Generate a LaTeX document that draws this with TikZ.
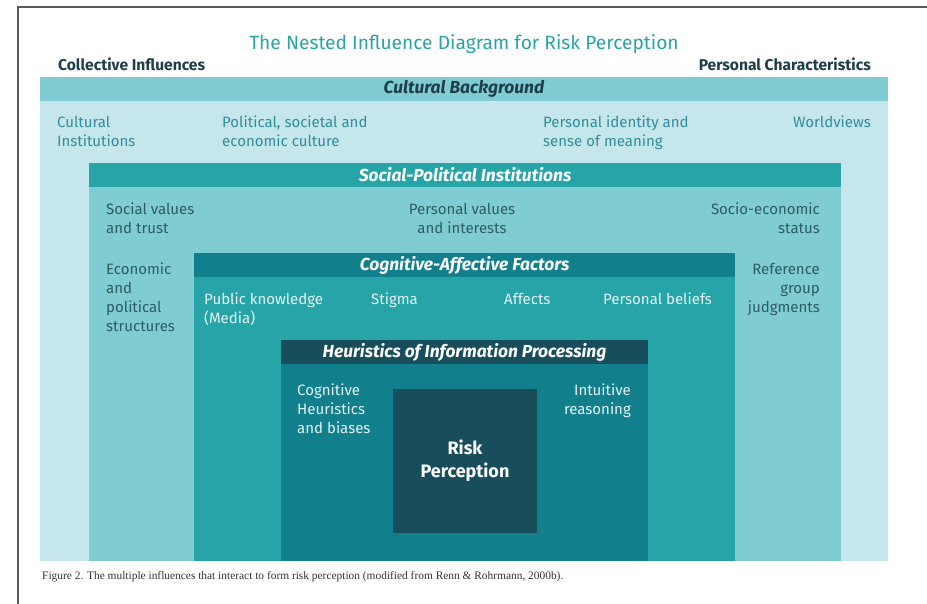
\documentclass[tikz,border=0pt]{standalone}
\usepackage{fontspec}
\setmainfont{Fira Sans}
\newfontfamily\capfont{Liberation Serif}
\usetikzlibrary{positioning}
\definecolor{paleTeal}{HTML}{C4E6EC}
\definecolor{lightTeal}{HTML}{7FCDD2}
\definecolor{midTeal}{HTML}{26A4A7}
\definecolor{deepTeal}{HTML}{117F8C}
\definecolor{darkTeal}{HTML}{184E5C}
\definecolor{titleTeal}{HTML}{2BA3A5}
\definecolor{inkOuter}{HTML}{338D98}
\definecolor{inkSocial}{HTML}{2E5C63}
\definecolor{inkDark}{HTML}{1E3F49}
\definecolor{inkLight}{HTML}{E4F3F4}
\tikzset{
  layer/.style={inner sep=0pt, outer sep=0pt, anchor=north west},
  band/.style={inner sep=0pt, outer sep=0pt, anchor=north, minimum height=24pt,
    text=white, font=\bfseries\itshape\fontsize{17.4}{19}\selectfont},
  lbl/.style={inner sep=0pt, align=left, font=\fontsize{15}{19}\selectfont},
  side/.style={inner sep=0pt, font=\bfseries\fontsize{15.6}{17}\selectfont, text=inkDark},
}

\begin{document}
\begin{tikzpicture}[x=1pt,y=-1pt]
\useasboundingbox (0,0) rectangle (927,604);
\fill[white] (0,0) rectangle (927,604);
\coordinate (frameLow) at (18,604);
\coordinate (frameCorner) at (18,7);
\coordinate (frameEnd) at (927,7);
\draw[black!65, line width=1.4pt] (frameLow) -- (frameCorner) -- (frameEnd);

% title and side headings
\node[inner sep=0pt, text=titleTeal, font=\fontsize{19.2}{21}\selectfont] (title) at (464,44) {The Nested Influence Diagram for Risk Perception};
\node[side, anchor=west] (collective) at (58,64) {Collective Influences};
\node[side, anchor=east] (personal) at (871,64) {Personal Characteristics};

% nested layers
\node[layer, fill=paleTeal, minimum width=848pt, minimum height=484pt] (cultBox) at (40,77) {};
\node[band, fill=lightTeal, text=inkDark, minimum width=848pt] (cultHdr) at (cultBox.north) {Cultural Background};
\node[layer, fill=lightTeal, minimum width=752pt, minimum height=398pt] (socBox) at (89,163) {};
\node[band, fill=midTeal, minimum width=752pt] (socHdr) at (socBox.north) {Social-Political Institutions};
\node[layer, fill=midTeal, minimum width=541pt, minimum height=308pt] (cogBox) at (194,253) {};
\node[band, fill=deepTeal, minimum width=541pt] (cogHdr) at (cogBox.north) {Cognitive-Affective Factors};
\node[layer, fill=deepTeal, minimum width=367pt, minimum height=221pt] (heurBox) at (281,340) {};
\node[band, fill=darkTeal, minimum width=367pt] (heurHdr) at (heurBox.north) {Heuristics of Information Processing};
\node[layer, fill=darkTeal, minimum width=144pt, minimum height=144pt] (riskBox) at (393,389) {};
\node[inner sep=0pt, align=center, text=white, font=\bfseries\fontsize{18}{23}\selectfont] (risk) at (riskBox.center) {Risk\\Perception};

% cultural background
\node[lbl, text=inkOuter, anchor=north west] (cultInst) at (57,116) {Cultural\\Institutions};
\node[lbl, text=inkOuter, anchor=north west] (polCult) at (222,116) {Political, societal and\\economic culture};
\node[lbl, text=inkOuter, anchor=north west] (identity) at (543,116) {Personal identity and\\sense of meaning};
\node[lbl, text=inkOuter, anchor=north east] (worldviews) at (871,116) {Worldviews};

% social-political institutions
\node[lbl, text=inkSocial, anchor=north west] (socValues) at (106,203) {Social values\\and trust};
\node[lbl, text=inkSocial, align=center, anchor=north] (persValues) at (462,203) {Personal values\\and interests};
\node[lbl, text=inkSocial, align=right, anchor=north east] (socioEcon) at (820,203) {Socio-economic\\status};
\node[lbl, text=inkSocial, anchor=north west] (econPol) at (106,263) {Economic\\and\\political\\structures};
\node[lbl, text=inkSocial, align=right, anchor=north east] (refGroup) at (820,263) {Reference\\group\\judgments};

% cognitive-affective factors
\node[lbl, text=inkLight, anchor=north west] (pubKnow) at (204,293) {Public knowledge\\(Media)};
\node[lbl, text=inkLight, anchor=north west] (stigma) at (371,293) {Stigma};
\node[lbl, text=inkLight, anchor=north west] (affects) at (504,293) {Affects};
\node[lbl, text=inkLight, anchor=north west] (beliefs) at (603,293) {Personal beliefs};

% heuristics
\node[lbl, text=inkLight, anchor=north west] (cogHeur) at (297,384) {Cognitive\\Heuristics\\and biases};
\node[lbl, text=inkLight, align=right, anchor=north east] (intuitive) at (631,384) {Intuitive\\reasoning};

% caption
\node[inner sep=0pt, anchor=base west, text=black!80, font=\capfont\fontsize{11.4}{13}\selectfont] (caption) at (42,579) {Figure 2. The multiple influences that interact to form risk perception (modified from Renn \& Rohrmann, 2000b).};
\end{tikzpicture}
\end{document}
